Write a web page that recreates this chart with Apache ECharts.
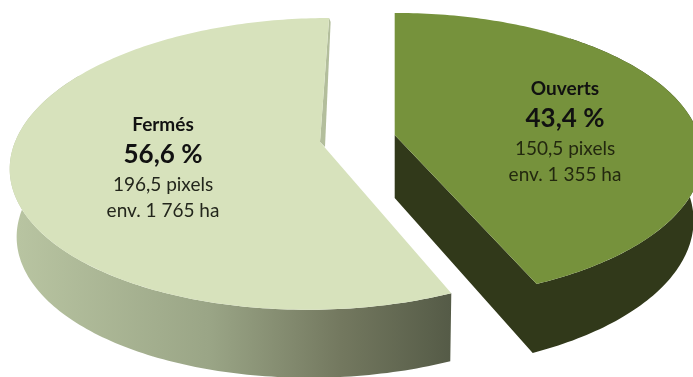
<!DOCTYPE html>
<html>
<head>
<meta charset="utf-8">
<style>html,body{margin:0;padding:0;background:#fff}#chart{width:693px;height:377px}</style>
<script src="https://cdn.jsdelivr.net/npm/echarts@6/dist/echarts.min.js"></script>
</head>
<body>
<div id="chart"></div>
<script>
// Land cover shares
const categories = ['Ouverts', 'Fermés'];
const shares = [43.4, 56.6];
const shareLabels = ['43,4 %', '56,6 %'];
const pixelLabels = ['150,5 pixels', '196,5 pixels'];
const areaLabels = ['env. 1 355 ha', 'env. 1 765 ha'];

// Projection of each exploded wedge: centre, radii, perspective, shear and label anchor
const wedgeViews = [
  { cx: 394.7, cy: 135, rx: 304, ry: 140.4, p: 0.15, shear: 0, depth: 63, depthSlope: 0.04, sinkScale: 0.972, labelX: 565, labelY: 89, bandFrom: 40, cutFace: true,
    top: '#76923c', labelColor: '#111', textColor: '#23280f', side: '#31391a' },
  { cx: 320, cy: 142, rx: 305, ry: 142.6, p: 0.15, shear: -10.5, depth: 68, depthSlope: 0, sinkScale: 0.982, labelX: 163, labelY: 125, bandTo: 300, cutFace: false,
    top: '#d7e2bc', labelColor: '#111', textColor: '#23261c', wall: '#b3be9c',
    side: { type: 'linear', x: 12, y: 0, x2: 451, y2: 0, global: true, colorStops: [
      { offset: 0, color: '#b9c5a2' }, { offset: 0.45, color: '#9aa586' },
      { offset: 0.75, color: '#73785f' }, { offset: 1, color: '#555b47' } ] } }
];
const vanishX = 394.7;
const deg = Math.PI / 180;

function ringPoint(v, angle) {
  const u = Math.sin(angle * deg), t = -Math.cos(angle * deg), w = 1 - v.p * t;
  return [v.cx + (v.rx * u + v.shear * t) / w, v.cy + v.ry * t / w];
}
function sink(v, pt) {
  return [vanishX + (pt[0] - vanishX) * v.sinkScale, pt[1] + v.depth + (pt[1] - v.cy) * v.depthSlope];
}
function arc(v, from, to) {
  const pts = [];
  const steps = Math.ceil(Math.abs(to - from));
  for (let i = 0; i <= steps; i++) pts.push(ringPoint(v, from + (to - from) * i / steps));
  return pts;
}

function renderWedge(params, api) {
  const i = params.dataIndex;
  const v = wedgeViews[i];
  let start = 0;
  for (let k = 0; k < i; k++) start += shares[k];
  const a0 = start * 3.6, a1 = (start + api.value(0)) * 3.6;
  const apex = [v.cx, v.cy];
  const children = [];
  const poly = (points, fill) => children.push({ type: 'polygon', shape: { points }, style: { fill, stroke: null } });

  // Outer rim: only the arc turned toward the viewer
  const bandFrom = v.bandFrom !== undefined ? v.bandFrom + a0 : a0;
  const bandTo = v.bandTo !== undefined ? v.bandTo : a1;
  const rim = arc(v, bandFrom, bandTo);
  const lowerRim = rim.map(p => sink(v, p)).reverse();
  if (v.cutFace) {
    // Rim and cut face share one outline so no seam shows between them
    poly([apex, sink(v, apex)].concat(lowerRim, rim), v.side);
  } else {
    poly(rim.concat(lowerRim), v.side);
  }
  if (v.wall) {
    const far = ringPoint(v, a1);
    poly([apex, far, [far[0] + 1.5, far[1] + 4], [apex[0] + 5, apex[1] + 5]], v.wall);
  }
  poly([apex].concat(arc(v, a0, a1)), v.top);

  const font = 'Lato, "Open Sans", sans-serif';
  const line = (text, dy, size, weight, color) => children.push({
    type: 'text', x: v.labelX, y: v.labelY + dy,
    style: { text, fontFamily: font, fontSize: size, fontWeight: weight, fill: color, align: 'center', verticalAlign: 'middle' }
  });
  line(categories[i], 0, 19, 'bold', v.labelColor);
  line(shareLabels[i], 30, 26, 'bold', v.labelColor);
  line(pixelLabels[i], 60, 19, 'normal', v.textColor);
  line(areaLabels[i], 86, 19, 'normal', v.textColor);
  return { type: 'group', children };
}

const chart = echarts.init(document.getElementById('chart'));
chart.setOption({
  backgroundColor: '#ffffff',
  animation: false,
  series: [{
    type: 'custom',
    coordinateSystem: 'none',
    silent: true,
    renderItem: renderWedge,
    data: shares.map(s => [s])
  }]
});
</script>
</body>
</html>
